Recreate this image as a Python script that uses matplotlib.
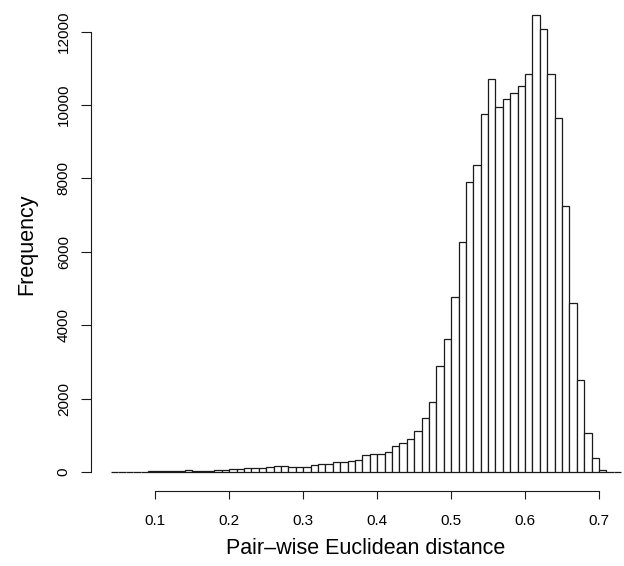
import matplotlib
matplotlib.use('Agg')
import numpy as np
import matplotlib.pyplot as plt

plt.rcParams['font.family'] = ['Liberation Sans', 'DejaVu Sans']

# Histogram bins (left edges, width 0.01) and counts
bin_lefts = np.round(np.arange(0.04, 0.725, 0.01), 2)
counts = [
    5, 6, 8, 10, 14, 18, 22, 28, 34, 40,          # 0.04 - 0.13
    45, 36, 30, 42, 55, 64, 73, 82, 100, 100,     # 0.14 - 0.23
    118, 136, 173, 173, 127, 127, 127, 191, 227, 227,  # 0.24 - 0.33
    272, 264, 308, 327, 472, 500, 500, 545, 717, 799,  # 0.34 - 0.43
    890, 1117, 1480, 1907, 2897, 3624, 4768, 6276, 7911, 8374,  # 0.44 - 0.53
    9746, 10708, 9936, 10155, 10327, 10509, 10845, 12443, 12071, 10836,  # 0.54 - 0.63
    9654, 7248, 4613, 2507, 1071, 373, 70, 15, 0,  # 0.64 - 0.72
]
x_ticks = [0.1, 0.2, 0.3, 0.4, 0.5, 0.6, 0.7]
y_ticks = [0, 2000, 4000, 6000, 8000, 10000, 12000]

W, H = 624, 566
fig = plt.figure(figsize=(W / 100, H / 100), dpi=100)
ax = fig.add_axes([91 / W, (H - 490.8) / H, 1 - 91 / W, 490.8 / H])

ax.bar(bin_lefts, counts, width=0.01, align='edge',
       facecolor='white', edgecolor='#1a1a1a', linewidth=0.9)

ax.set_xlim(0.0130, 0.7338)
ax.set_ylim(-510, 12861)

for s in ['top', 'right']:
    ax.spines[s].set_visible(False)
ax.spines['left'].set_bounds(0, 12000)
ax.spines['bottom'].set_bounds(0.1, 0.7)
for s in ['left', 'bottom']:
    ax.spines[s].set_linewidth(0.8)
    ax.spines[s].set_color('#1a1a1a')

ax.set_xticks(x_ticks)
ax.set_xticklabels([str(v) for v in x_ticks])
ax.set_yticks(y_ticks)
ax.set_yticklabels([str(v) for v in y_ticks], rotation=90, va='center')
ax.tick_params(axis='both', width=0.8, color='#1a1a1a',
               labelsize=11, direction='out')
ax.tick_params(axis='x', length=5.8, pad=11)
ax.tick_params(axis='y', length=7.5, pad=7)

fig.text(366 / W, 1 - 548 / H, 'Pair\u2013wise Euclidean distance',
         ha='center', va='center', fontsize=15.5)
fig.text(27 / W, 1 - 244 / H, 'Frequency', rotation=90,
         ha='center', va='center', fontsize=15.5)

fig.savefig('out.png', dpi=100)
